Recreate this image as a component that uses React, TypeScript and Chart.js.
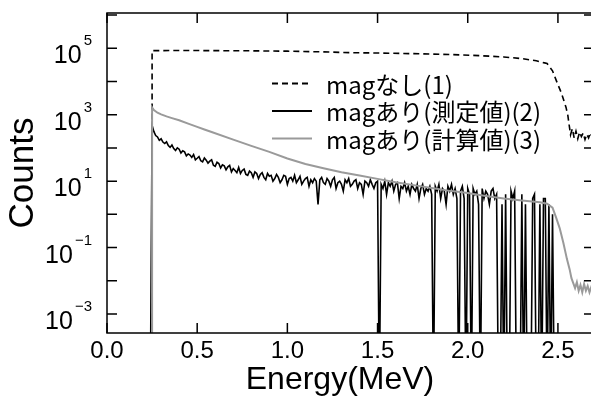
import React, { useEffect, useRef } from "react";
import { Chart, registerables } from "chart.js";

Chart.register(...registerables);

// ---------- data ----------
const X_MIN = 0;
const X_MAX = 2.7;
const Y_MIN = 2.68e-4;
const Y_MAX = 1.156e6;

const X_TICKS = [0, 0.5, 1.0, 1.5, 2.0, 2.5];
const X_TICK_LABELS = ["0.0", "0.5", "1.0", "1.5", "2.0", "2.5"];
const Y_TICK_EXPONENTS = [-3, -2, -1, 0, 1, 2, 3, 4, 5, 6];
const Y_LABEL_EXPONENTS = [5, 3, 1, -1, -3];

const X_TITLE = "Energy(MeV)";
const Y_TITLE = "Counts";
const LEGEND_LABELS = ["magなし(1)", "magあり(測定値)(2)", "magあり(計算値)(3)"];

// (1) mag なし — dashed
const noMagEnergy = [
  0.25, 0.25, 0.4, 0.6, 0.8, 1.0, 1.2, 1.35, 1.5, 1.7, 1.9, 2.07, 2.2, 2.3, 2.38, 2.42, 2.44, 2.47, 2.49,
  2.52, 2.545, 2.555, 2.56, 2.57, 2.58, 2.59, 2.6, 2.61, 2.62, 2.63, 2.64, 2.65, 2.66, 2.67, 2.68, 2.69, 2.7,
];
const noMagCounts = [
  0, 85000, 86000, 85000, 84000, 82000, 78000, 74000, 72000, 69000, 65000, 60000, 55000, 49000, 42000, 37000, 35000, 21000, 11000,
  4400, 1660, 950, 600, 250, 380, 200, 320, 190, 300, 220, 280, 180, 260, 200, 290, 210, 250,
];

// (2) mag あり measured — channel counts, channel 0 at 0.24 MeV, 0.01 MeV wide
const MEASURED_E0 = 0.24;
const MEASURED_STEP = 0.01;
const measuredCounts = [
  0,
  480, 310, 236, 214, 170, 188, 150, 136, 152, 118,
  104, 122, 96, 84, 101, 92, 70, 82, 76, 58,
  66, 61, 52, 63, 44, 49, 55, 41, 38, 50,
  43, 35, 40, 44, 30, 28, 37, 34, 25, 31,
  29, 22, 27, 30, 19, 24, 21, 18, 26, 17,
  21, 23, 16, 15, 20, 18, 13, 19, 17, 12,
  16, 18, 13, 11, 17, 14, 15, 10, 12, 16,
  13, 9, 11, 15, 14, 8, 12, 13, 10, 15,
  9, 11, 14, 8, 10, 12, 13, 7, 11, 9,
  12, 10, 2, 11, 13, 9, 8, 12, 10, 7,
  11, 13, 6, 9, 10, 8, 5, 11, 9, 12,
  7, 8, 10, 11, 6, 9, 8, 4, 10, 9,
  7, 11, 8, 6, 9, 10, 0, 8, 6, 10,
  4, 9, 7, 10, 5, 8, 9, 3, 7, 6,
  9, 5, 7, 4, 8, 6, 5, 8, 3, 6,
  8, 4, 6, 5, 7, 4, 0, 7, 5, 8,
  3, 6, 5, 2, 7, 5, 8, 4, 6, 3,
  0, 5, 7, 3, 0, 6, 4, 0, 6, 4,
  5, 2, 0, 6, 3, 5, 4, 2, 5, 6,
  3, 4, 0, 0, 2, 0, 4, 0, 0, 5,
  3, 5, 0, 0, 0, 4, 0, 2, 0, 0,
  0, 3, 4, 0, 0, 2, 0, 3, 3, 0,
  2, 0, 1, 0,
];

// (3) mag あり calculated — grey
const calcEnergy = [
  0.25, 0.25, 0.26, 0.28, 0.3, 0.33, 0.36, 0.4, 0.45, 0.5, 0.54, 0.58, 0.7, 0.8, 0.9, 1.0, 1.1, 1.2, 1.3,
  1.4, 1.5, 1.6, 1.7, 1.8, 1.9, 2.0, 2.1, 2.2, 2.3, 2.4, 2.44, 2.47, 2.49, 2.51, 2.53, 2.55, 2.565, 2.575,
  2.585, 2.595, 2.605, 2.615, 2.625, 2.635, 2.645, 2.655, 2.665, 2.675, 2.685, 2.695, 2.705,
];
const calcCounts = [
  0, 1660, 1380, 1150, 1020, 890, 790, 680, 540, 430, 360, 302, 178, 115, 76, 48, 33, 24.5, 18.6,
  14.8, 11.7, 9.3, 7.6, 6.2, 5.1, 4.4, 3.6, 3.0, 2.6, 2.3, 2.1, 1.6, 0.8, 0.38, 0.14, 0.045, 0.022, 0.012,
  0.0085, 0.006, 0.009, 0.005, 0.0075, 0.0045, 0.008, 0.005, 0.007, 0.0045, 0.0065, 0.005, 0.006,
];

// ---------- helpers ----------
const FLOOR = Y_MIN / 100; // zero counts are drawn down past the bottom of the log axis
const toPoints = (xs: number[], ys: number[]) =>
  ys.map((y, i) => ({ x: xs[i], y: y > 0 ? y : FLOOR }));
const measuredEnergy = measuredCounts.map((_, i) => +(MEASURED_E0 + i * MEASURED_STEP).toFixed(3));

const NUM_FONT = '"Liberation Sans", Arial, sans-serif';
const JP_FONT = '"Noto Sans CJK JP", "Liberation Sans", sans-serif';
const GREY = "#9a9a9a";

const framePlugin = {
  id: "frame",
  afterDraw(chart: any) {
    const { ctx, chartArea: a, scales } = chart;
    const xs = scales.x;
    const ys = scales.y;
    ctx.save();
    ctx.strokeStyle = "#000";
    ctx.fillStyle = "#000";
    ctx.lineWidth = 1.5;
    ctx.strokeRect(a.left, a.top, a.right - a.left, a.bottom - a.top);
    const T = 10;
    ctx.beginPath();
    X_TICKS.forEach((v) => {
      const px = xs.getPixelForValue(v);
      ctx.moveTo(px, a.bottom);
      ctx.lineTo(px, a.bottom - T);
      ctx.moveTo(px, a.top);
      ctx.lineTo(px, a.top + T);
    });
    Y_TICK_EXPONENTS.forEach((e) => {
      const py = ys.getPixelForValue(Math.pow(10, e));
      ctx.moveTo(a.left, py);
      ctx.lineTo(a.left + T, py);
      ctx.moveTo(a.right, py);
      ctx.lineTo(a.right - T, py);
    });
    ctx.stroke();

    // x tick labels
    ctx.font = `24px ${NUM_FONT}`;
    ctx.textAlign = "center";
    ctx.textBaseline = "alphabetic";
    X_TICKS.forEach((v, i) => {
      ctx.fillText(X_TICK_LABELS[i], xs.getPixelForValue(v), 358);
    });

    // y tick labels 10^n
    Y_LABEL_EXPONENTS.forEach((e) => {
      const py = ys.getPixelForValue(Math.pow(10, e));
      const sup = e < 0 ? "\u2212" + Math.abs(e) : String(e);
      ctx.textAlign = "right";
      ctx.font = `15px ${NUM_FONT}`;
      const supW = ctx.measureText(sup).width;
      ctx.fillText(sup, 92, py - 3);
      ctx.font = `25px ${NUM_FONT}`;
      ctx.fillText("10", 92 - supW - 2, py + 15);
    });

    // axis titles
    ctx.font = `32px ${NUM_FONT}`;
    ctx.textAlign = "center";
    ctx.fillText(X_TITLE, 340, 389);
    ctx.save();
    ctx.translate(33, (a.top + a.bottom) / 2);
    ctx.rotate(-Math.PI / 2);
    ctx.font = `35px ${NUM_FONT}`;
    ctx.textAlign = "center";
    ctx.fillText(Y_TITLE, 0, 0);
    ctx.restore();

    // legend
    const rows = [83.5, 111, 138.5];
    const styles = [
      { color: "#000", dash: [6, 4], w: 1.8 },
      { color: "#000", dash: [], w: 1.8 },
      { color: GREY, dash: [], w: 1.8 },
    ];
    ctx.font = `24px ${JP_FONT}`;
    ctx.textAlign = "left";
    ctx.textBaseline = "middle";
    rows.forEach((ry, i) => {
      ctx.beginPath();
      ctx.setLineDash(styles[i].dash);
      ctx.strokeStyle = styles[i].color;
      ctx.lineWidth = styles[i].w;
      ctx.moveTo(272, ry);
      ctx.lineTo(312, ry);
      ctx.stroke();
      ctx.setLineDash([]);
      ctx.fillStyle = "#000";
      ctx.fillText(LEGEND_LABELS[i], 326, ry + 1);
    });
    ctx.restore();
  },
};

export default function App() {
  const ref = useRef<HTMLCanvasElement | null>(null);
  useEffect(() => {
    if (!ref.current) return;
    const chart = new Chart(ref.current, {
      type: "line",
      data: {
        datasets: [
          {
            label: LEGEND_LABELS[2],
            data: toPoints(calcEnergy, calcCounts),
            borderColor: GREY,
            borderWidth: 2,
            order: 0,
          },
          {
            label: LEGEND_LABELS[1],
            data: toPoints(measuredEnergy, measuredCounts),
            borderColor: "#000",
            borderWidth: 1.6,
            order: 1,
          },
          {
            label: LEGEND_LABELS[0],
            data: toPoints(noMagEnergy, noMagCounts),
            borderColor: "#000",
            borderWidth: 1.6,
            borderDash: [6, 4],
            order: 2,
          },
        ],
      },
      options: {
        animation: false,
        responsive: false,
        devicePixelRatio: 1,
        layout: { padding: { top: 13, right: 6, left: 0, bottom: 0 } },
        elements: { point: { radius: 0, hoverRadius: 0 }, line: { tension: 0 } },
        plugins: { legend: { display: false }, tooltip: { enabled: false } },
        scales: {
          x: {
            type: "linear",
            min: X_MIN,
            max: X_MAX,
            ticks: { display: false },
            grid: { display: false },
            border: { display: false },
            afterFit: (s: any) => {
              s.height = 66;
            },
          },
          y: {
            type: "logarithmic",
            min: Y_MIN,
            max: Y_MAX,
            ticks: { display: false },
            grid: { display: false },
            border: { display: false },
            afterFit: (s: any) => {
              s.width = 107;
            },
          },
        },
      },
      plugins: [framePlugin],
    } as any);
    return () => chart.destroy();
  }, []);
  return (
    <div
      style={{
        position: "fixed",
        left: 0,
        top: 0,
        width: 591,
        height: 399,
        overflow: "hidden",
        background: "#fff",
      }}
    >
      <canvas ref={ref} width={600} height={399} style={{ display: "block" }} />
    </div>
  );
}
